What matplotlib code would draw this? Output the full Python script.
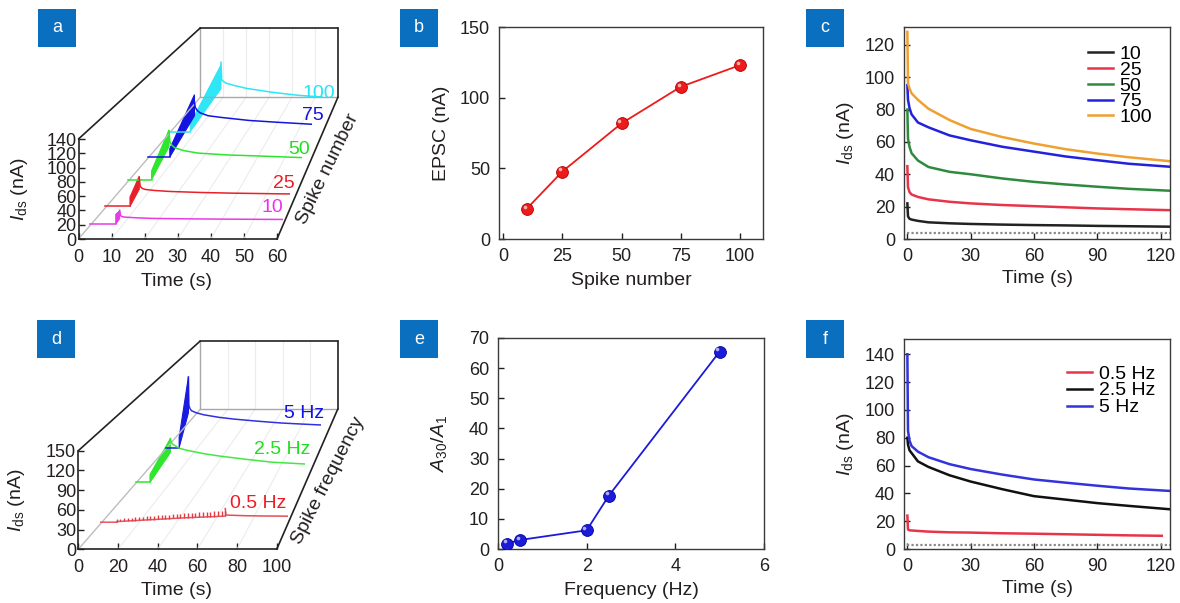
import numpy as np
import matplotlib
matplotlib.use("Agg")
import matplotlib.pyplot as plt
import matplotlib.transforms as mtransforms
from matplotlib.patches import Rectangle

plt.rcParams['font.family'] = ['Liberation Sans', 'DejaVu Sans']
plt.rcParams['mathtext.fontset'] = 'custom'
plt.rcParams['mathtext.rm'] = 'Liberation Sans'
plt.rcParams['mathtext.it'] = 'Liberation Sans:italic'
plt.rcParams['mathtext.bf'] = 'Liberation Sans:bold'

TEXT = '#231f20'
BOX_BLUE = '#0b6fbf'
W, H = 1180, 603

# ---- data ----
# b: EPSC vs spike number
SPIKE_NUMBERS = [10, 25, 50, 75, 100]
EPSC = [21.4, 47.7, 81.8, 107.7, 123.0]

# c: decay after the spike trains (time after last spike)
TIME_DECAY = [0, 0.3, 1, 2, 5, 10, 20, 30, 45, 60, 75, 90, 105, 125]
DECAY_10 = [22, 14, 12.5, 12, 11.2, 10.3, 9.7, 9.3, 8.9, 8.6, 8.4, 8.1, 7.9, 7.6]
DECAY_25 = [45, 32, 29, 27.5, 26, 24.5, 23, 22, 21, 20.3, 19.6, 18.9, 18.4, 17.8]
DECAY_50 = [80, 62, 57, 53, 48.5, 44.5, 41.5, 40, 37.4, 35.3, 33.7, 32.3, 31, 29.8]
DECAY_75 = [95, 86, 81, 77, 72, 69, 64, 61, 57, 54, 51, 48.7, 46.5, 44.6]
DECAY_100 = [128, 96, 93, 90, 86, 80.5, 73.5, 68, 63, 59, 55.5, 52.8, 50.5, 48]
BASELINE_C = 3.5

# e: A30/A1 vs frequency
FREQUENCIES = [0.2, 0.5, 2, 2.5, 5]
A30_A1 = [1.8, 3.0, 6.2, 17.7, 65.5]

# f: decay after 30 pulses at different frequencies
FREQ_VALUES = [0.5, 2.5, 5]
FREQ_LABELS = ['0.5 Hz', '2.5 Hz', '5 Hz']
DECAY_05HZ = [24, 14, 13.5, 13.3, 13, 12.5, 12, 11.8, 11.3, 11, 10.6, 10.2, 9.8, 9.4]
DECAY_25HZ = [80, 75, 71, 69, 63, 59, 53, 48.5, 43, 38, 35.5, 33, 31, 28.5]
DECAY_5HZ = [140, 85, 78, 74, 70, 66, 61, 57.5, 53.5, 50, 47.7, 45.5, 43.5, 41.7]
TIME_END_F = [121, 125, 125]
BASELINE_F = 3.0

# a: spike trains (start time, rate, envelope of the dense train)
TRAIN_START_A = 8.0
TRAIN_RATE_A = 8.3
BASE_A = 2.0
FIRST_SPIKE_A = 14.0
TRAIN_LOW_END_A = [10, 28, 55, 72, 80]

# d: 30 pulses per train
N_PULSES = 30
TRAIN_START_D = 8.5
BASE_D = 2.0
PULSE_LOW_05HZ = [3, 3.3, 3.6, 4, 4.3, 4.6, 5, 5.3, 5.6, 6, 6.3, 6.6, 7, 7.3, 7.6,
                  8, 8.3, 8.6, 9, 9.2, 9.5, 9.8, 10, 10.3, 10.5, 10.8, 11, 11.3, 11.6, 12]
PULSE_HIGH_05HZ = [7, 7.5, 8, 8.6, 9.2, 9.8, 10.3, 10.8, 11.3, 11.8, 12.3, 12.8, 13.3, 13.8, 14.3,
                   14.8, 15.3, 15.8, 16.3, 16.7, 17.1, 17.5, 17.9, 18.3, 18.7, 19, 19.3, 19.6, 19.9, 20.2]
FIRST_SPIKE_D = [0, 14, 20]
TRAIN_LOW_END_D = [0, 55, 70]

# depth (fraction of box depth) of each trace in the waterfall panels
DEPTH_A = [0.095, 0.22, 0.41, 0.57, 0.75]
DEPTH_D = [0.185, 0.47, 0.72]
V_FRAC = (2.0, 4.62)   # vanishing point in front-face axes fractions
C_BACK = 0.307         # shrink toward it at the back wall

COLORS_A = ['#e63ce6', '#e8202a', '#2ee62e', '#1414e0', '#2ee6f5']
COLORS_C = ['#222222', '#e8344a', '#2e8b3e', '#2222dd', '#f0a030']
COLORS_D = ['#e23a44', '#2ee62e', '#1a1ae0']
COLORS_F = ['#e8344a', '#111111', '#3333dd']

DECAYS_C = [DECAY_10, DECAY_25, DECAY_50, DECAY_75, DECAY_100]
DECAYS_F = [DECAY_05HZ, DECAY_25HZ, DECAY_5HZ]


def frame(left, top, right, bottom):
    return [left / W, 1 - bottom / H, (right - left) / W, (bottom - top) / H]


def fig_xy(x, y):
    return x / W, 1 - y / H


fig = plt.figure(figsize=(W / 100, H / 100), dpi=100)


def panel_label(letter, left, top):
    fig.add_artist(Rectangle(fig_xy(left, top + 38), 38 / W, 38 / H,
                             transform=fig.transFigure, color=BOX_BLUE, lw=0))
    fig.text(*fig_xy(left + 19, top + 19), letter, color='white',
             ha='center', va='center', fontsize=13)


def style_axes(ax, xlim, ylim, xticks, yticks):
    ax.set_xlim(*xlim)
    ax.set_ylim(*ylim)
    ax.set_xticks(xticks)
    ax.set_yticks(yticks)
    ax.tick_params(direction='in', length=4, width=1, labelsize=13, pad=6.5,
                   colors=TEXT, top=False, right=False)
    for s in ax.spines.values():
        s.set_color('#3a3a3a')
        s.set_linewidth(1)


def project(ax, t, y, depth):
    x0, x1 = ax.get_xlim()
    y0, y1 = ax.get_ylim()
    tv = x0 + V_FRAC[0] * (x1 - x0)
    yv = y0 + V_FRAC[1] * (y1 - y0)
    k = C_BACK * depth
    t = np.asarray(t, float)
    y = np.asarray(y, float)
    return t + k * (tv - t), y + k * (yv - y)


def seg(ax, p, q, **kw):
    xa, ya = project(ax, p[0], p[1], p[2])
    xb, yb = project(ax, q[0], q[1], q[2])
    ax.plot([xa, xb], [ya, yb], clip_on=False, solid_capstyle='round', **kw)


def clip_at(ax, artist, t_max, depth):
    xb, _ = project(ax, t_max, 0, depth)
    artist.set_clip_path(Rectangle((-1e3, -1e3), xb + 1e3, 1e4, transform=ax.transData))


def waterfall_axes(rect, xlim, ylim, xticks, yticks):
    ax = fig.add_axes(rect)
    ax.set_xlim(*xlim)
    ax.set_ylim(*ylim)
    ax.set_xticks(xticks)
    ax.set_yticks(yticks)
    ax.patch.set_alpha(0)
    ax.spines['top'].set_visible(False)
    ax.spines['right'].set_visible(False)
    for s in ('left', 'bottom'):
        ax.spines[s].set_color('#222222')
        ax.spines[s].set_linewidth(1.2)
    ax.tick_params(direction='in', length=4, width=1, labelsize=13, colors=TEXT)
    ax.tick_params(axis='y', pad=1.5)
    ax.tick_params(axis='x', pad=7)
    x0, x1 = xlim
    y0, y1 = ylim
    for t in xticks[1:-1]:
        seg(ax, (t, y0, 0), (t, y0, 1), color='#ececec', lw=0.8)
        seg(ax, (t, y0, 1), (t, y1, 1), color='#ececec', lw=0.8)
    seg(ax, (x0, y0, 0), (x0, y0, 1), color='#bdbdbd', lw=1)
    seg(ax, (x0, y0, 1), (x1, y0, 1), color='#a8a8a8', lw=1)
    seg(ax, (x0, y0, 1), (x0, y1, 1), color='#a8a8a8', lw=1)
    seg(ax, (x0, y1, 1), (x1, y1, 1), color='#222222', lw=1.2)
    seg(ax, (x1, y0, 1), (x1, y1, 1), color='#222222', lw=1.2)
    seg(ax, (x0, y1, 0), (x0, y1, 1), color='#222222', lw=1.2)
    seg(ax, (x1, y0, 0), (x1, y0, 1), color='#222222', lw=1.2)
    return ax


IDS = r'$I_{\mathrm{ds}}$ (nA)'

# ---------------- a ----------------
ax_a = waterfall_axes(frame(78.5, 139, 277, 239), (0, 60), (0, 140),
                      [0, 10, 20, 30, 40, 50, 60], [0, 20, 40, 60, 80, 100, 120, 140])
for i in reversed(range(len(SPIKE_NUMBERS))):
    f = DEPTH_A[i]
    col = COLORS_A[i]
    ts = TRAIN_START_A
    te = ts + SPIKE_NUMBERS[i] / TRAIN_RATE_A
    x, y = project(ax_a, [0, ts], [BASE_A, BASE_A], f)
    ax_a.plot(x, y, color=col, lw=1.1, clip_on=False)
    x, y = project(ax_a, [ts, ts, te, te],
                   [BASE_A, BASE_A + FIRST_SPIKE_A, EPSC[i], TRAIN_LOW_END_A[i]], f)
    ax_a.fill(x, y, color=col, lw=0.8, clip_on=False)
    x, y = project(ax_a, te + np.array(TIME_DECAY), DECAYS_C[i], f)
    ln, = ax_a.plot(x, y, color=col, lw=1.1)
    clip_at(ax_a, ln, 60, f)
ax_a.set_xlabel('Time (s)', fontsize=14, color=TEXT)
ax_a.set_ylabel(IDS, fontsize=14, color=TEXT)
ax_a.xaxis.set_label_coords(0.496, -0.335)
ax_a.yaxis.set_label_coords(-0.245, 0.5)
for lab, (px, py), col in zip(['10', '25', '50', '75', '100'],
                              [(272, 208), (284, 183), (299, 149), (313, 115), (319, 93)],
                              ['#ee30ee', '#ee1c24', '#22dd22', '#1010e8', '#22e5f5']):
    fig.text(*fig_xy(px, py), lab, color=col, fontsize=14, ha='center', va='center')
fig.text(*fig_xy(328, 169), 'Spike number', fontsize=14, color=TEXT, rotation=64,
         ha='center', va='center', rotation_mode='anchor')

# ---------------- d ----------------
ax_d = waterfall_axes(frame(78.3, 450.7, 276.7, 549.3), (0, 100), (0, 150),
                      [0, 20, 40, 60, 80, 100], [0, 30, 60, 90, 120, 150])
for i in reversed(range(len(FREQ_VALUES))):
    f = DEPTH_D[i]
    col = COLORS_D[i]
    ts = TRAIN_START_D
    if i == 0:
        times = ts + np.arange(N_PULSES) / FREQ_VALUES[i]
        te = times[-1]
        x, y = project(ax_d, np.r_[0, ts, times], np.r_[BASE_D, BASE_D, PULSE_LOW_05HZ], f)
        ax_d.plot(x, y, color=col, lw=1.1, clip_on=False, alpha=0.85)
        xl, yl = project(ax_d, times, PULSE_LOW_05HZ, f)
        xh, yh = project(ax_d, times, PULSE_HIGH_05HZ, f)
        ax_d.vlines(xl, yl, yh, color=col, lw=1.0, clip_on=False)
    else:
        te = ts + N_PULSES / FREQ_VALUES[i]
        x, y = project(ax_d, [0, ts], [BASE_D, BASE_D], f)
        ax_d.plot(x, y, color=col, lw=1.1, clip_on=False)
        x, y = project(ax_d, [ts, ts, te, te],
                       [BASE_D, BASE_D + FIRST_SPIKE_D[i], DECAYS_F[i][0], TRAIN_LOW_END_D[i]], f)
        ax_d.fill(x, y, color=col, lw=0.8, clip_on=False)
    x, y = project(ax_d, te + np.array(TIME_DECAY), DECAYS_F[i], f)
    ln, = ax_d.plot(x, y, color=col, lw=1.1, alpha=0.9)
    clip_at(ax_d, ln, 100, f)
ax_d.set_xlabel('Time (s)', fontsize=14, color=TEXT)
ax_d.set_ylabel(IDS, fontsize=14, color=TEXT)
ax_d.xaxis.set_label_coords(0.496, -0.33)
ax_d.yaxis.set_label_coords(-0.26, 0.5)
for lab, (px, py), col in zip(FREQ_LABELS, [(258, 504), (282, 449), (304, 414)],
                              ['#ee1c24', '#22dd22', '#1010e8']):
    fig.text(*fig_xy(px, py), lab, color=col, fontsize=14, ha='center', va='center')
fig.text(*fig_xy(328, 481), 'Spike frequency', fontsize=14, color=TEXT, rotation=63,
         ha='center', va='center', rotation_mode='anchor')


def sphere_plot(ax, x, y, color, edge, shine):
    ax.plot(x, y, '-', color=color, lw=1.3, zorder=2)
    ax.plot(x, y, 'o', ms=8.5, color=color, mec=edge, mew=0.6, zorder=3)
    off = mtransforms.ScaledTranslation(-1.6 / 72, 1.6 / 72, fig.dpi_scale_trans)
    ax.plot(x, y, 'o', ms=2.6, color=shine, mew=0, alpha=0.85, zorder=4,
            transform=ax.transData + off)


# ---------------- b ----------------
ax_b = fig.add_axes(frame(499, 27, 763, 239))
style_axes(ax_b, (-1.7, 109.7), (0, 150), [0, 25, 50, 75, 100], [0, 50, 100, 150])
sphere_plot(ax_b, SPIKE_NUMBERS, EPSC, '#ee1b1b', '#b00000', '#ffc8c8')
ax_b.set_xlabel('Spike number', fontsize=14, color=TEXT)
ax_b.set_ylabel('EPSC (nA)', fontsize=14, color=TEXT)
ax_b.xaxis.set_label_coords(0.5, -0.155)
ax_b.yaxis.set_label_coords(-0.186, 0.5)

# ---------------- e ----------------
ax_e = fig.add_axes(frame(498, 338, 764, 549))
style_axes(ax_e, (0, 6), (0, 70), [0, 2, 4, 6], [0, 10, 20, 30, 40, 50, 60, 70])
sphere_plot(ax_e, FREQUENCIES, A30_A1, '#1c1cd8', '#0000a0', '#c8c8ff')
ax_e.set_xlabel('Frequency (Hz)', fontsize=14, color=TEXT)
ax_e.set_ylabel(r'$\mathit{A}_{30}/\mathit{A}_{1}$', fontsize=14, color=TEXT)
ax_e.xaxis.set_label_coords(0.5, -0.156)
ax_e.yaxis.set_label_coords(-0.186, 0.5)

# ---------------- c ----------------
ax_c = fig.add_axes(frame(904, 27, 1170, 239))
style_axes(ax_c, (-1.6, 124.5), (0, 131), [0, 30, 60, 90, 120], [0, 20, 40, 60, 80, 100, 120])
ax_c.plot([0, TIME_DECAY[-1]], [BASELINE_C, BASELINE_C], color='#8a8a8a', lw=1.6,
          ls=(0, (1, 1)))
for lab, yv, col in zip(SPIKE_NUMBERS, DECAYS_C, COLORS_C):
    ax_c.plot(TIME_DECAY, yv, color=col, lw=1.8, label=str(lab))
ax_c.legend(loc='upper left', bbox_to_anchor=(0.69, 0.913), frameon=False, fontsize=14,
            handlelength=1.3, handletextpad=0.35, labelspacing=-0.095, borderpad=0,
            borderaxespad=0)
ax_c.set_xlabel('Time (s)', fontsize=14, color=TEXT)
ax_c.set_ylabel(IDS, fontsize=14, color=TEXT)
ax_c.xaxis.set_label_coords(0.5, -0.146)
ax_c.yaxis.set_label_coords(-0.18, 0.5)

# ---------------- f ----------------
ax_f = fig.add_axes(frame(904, 339, 1170, 549))
style_axes(ax_f, (-1.6, 124.5), (0, 151), [0, 30, 60, 90, 120],
           [0, 20, 40, 60, 80, 100, 120, 140])
ax_f.plot([0, TIME_DECAY[-1]], [BASELINE_F, BASELINE_F], color='#8a8a8a', lw=1.6,
          ls=(0, (1, 1)))
for lab, yv, col, t_end in zip(FREQ_LABELS, DECAYS_F, COLORS_F, TIME_END_F):
    ln, = ax_f.plot(TIME_DECAY, yv, color=col, lw=1.8, label=lab)
    ln.set_clip_path(Rectangle((-10, -10), t_end + 10, 500, transform=ax_f.transData))
ax_f.legend(loc='upper left', bbox_to_anchor=(0.611, 0.876), frameon=False, fontsize=14,
            handlelength=1.3, handletextpad=0.35, labelspacing=-0.04, borderpad=0,
            borderaxespad=0)
ax_f.set_xlabel('Time (s)', fontsize=14, color=TEXT)
ax_f.set_ylabel(IDS, fontsize=14, color=TEXT)
ax_f.xaxis.set_label_coords(0.5, -0.148)
ax_f.yaxis.set_label_coords(-0.18, 0.5)

for letter, (lx, ly) in zip('abcdef', [(38, 9), (400, 9), (806, 9),
                                      (37, 320), (400, 320), (806, 320)]):
    panel_label(letter, lx, ly)

fig.savefig('out.png', dpi=100)
